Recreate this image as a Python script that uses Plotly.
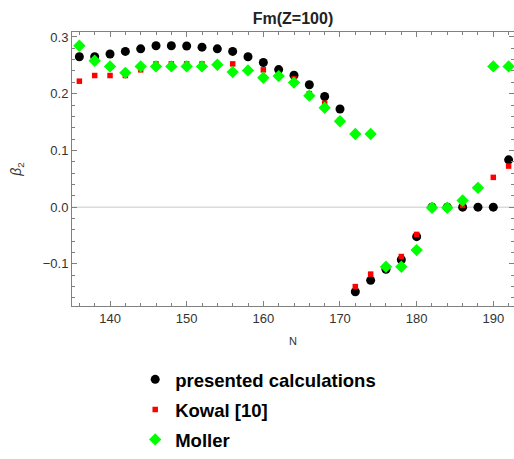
import plotly.graph_objects as go

N = [136, 138, 140, 142, 144, 146, 148, 150, 152, 154, 156, 158, 160, 162, 164,
     166, 168, 170, 172, 174, 176, 178, 180, 182, 184, 186, 188, 190, 192]

presented = [0.265, 0.265, 0.270, 0.2745, 0.279, 0.2845, 0.2845, 0.284, 0.282, 0.279,
             0.2745, 0.265, 0.255, 0.2425, 0.2325, 0.2157, 0.195, 0.173,
             -0.149, -0.129, -0.1095, -0.0926, -0.052, 0.0, 0.0, 0.0, 0.0, 0.0, 0.0834]

kowal = [0.222, 0.232, 0.232, 0.232, 0.242, 0.2525, 0.2525, 0.2525, 0.2525, 0.2525,
         0.2525, 0.242, 0.242, 0.232, 0.226, 0.200, 0.183, 0.153,
         -0.140, -0.118, -0.107, -0.087, -0.048, 0.002, 0.002, 0.003, 0.034, 0.0525, 0.0724]

moller = [0.2845, 0.258, 0.248, 0.2367, 0.248, 0.248, 0.248, 0.248, 0.248, 0.251,
          0.238, 0.241, 0.228, 0.231, 0.2195, 0.1965, 0.175, 0.1515,
          0.129, 0.129, -0.105, -0.105, -0.0757, -0.001, -0.001, 0.0117, 0.034, 0.248, 0.248]

FONT = "Arial, Liberation Sans, sans-serif"

fig = go.Figure()
fig.add_trace(go.Scatter(x=N, y=presented, mode="markers", name="presented calculations",
                         legendgroup="a",
                         marker=dict(symbol="circle", size=9, color="black")))
fig.add_trace(go.Scatter(x=N, y=kowal, mode="markers", name="Kowal [10]",
                         legendgroup="b",
                         marker=dict(symbol="square", size=5.5, color="#ff0000")))
fig.add_trace(go.Scatter(x=N, y=moller, mode="markers", name="Moller",
                         legendgroup="c",
                         marker=dict(symbol="diamond", size=9.5, color="#00ff00")))

axis_common = dict(
    showline=True, linecolor="#808080", linewidth=1, mirror="ticks",
    ticks="inside", ticklen=5, tickcolor="#808080", tickwidth=1,
    showgrid=False, zeroline=False,
    tickfont=dict(family=FONT, size=13, color="#333333"),
)

fig.update_xaxes(range=[135.04, 192.7], dtick=10, tick0=140,
                 minor=dict(ticks="inside", ticklen=3, dtick=2, tickcolor="#808080"),
                 title=dict(text="N", font=dict(family=FONT, size=11, color="#333333"),
                            standoff=12),
                 **axis_common)
fig.update_yaxes(range=[-0.1742, 0.3087], dtick=0.1, tick0=0, tickformat=".1f",
                 minor=dict(ticks="inside", ticklen=3, dtick=0.02, tickcolor="#808080"),
                 title=dict(text="<i>β</i><sub>2</sub>",
                            font=dict(family=FONT, size=14, color="#333333"), standoff=17),
                 **axis_common)

fig.add_hline(y=0, line=dict(color="#c8c8c8", width=1), layer="below")

fig.update_layout(
    width=514, height=459,
    margin=dict(l=72, r=0, t=32, b=151),
    paper_bgcolor="white", plot_bgcolor="white",
    title=dict(text="<b>Fm(Z=100)</b>", x=0.5, xref="paper", xanchor="center",
               y=1 - 18 / 459, yanchor="middle",
               font=dict(family=FONT, size=16, color="#222222")),
    showlegend=True,
    legend=dict(x=0.143, xanchor="left", y=-0.2, yanchor="top",
                traceorder="grouped", tracegroupgap=3,
                font=dict(family=FONT, size=18.5, color="black", weight="bold"),
                bgcolor="rgba(0,0,0,0)"),
)

fig.write_html("out.html")
